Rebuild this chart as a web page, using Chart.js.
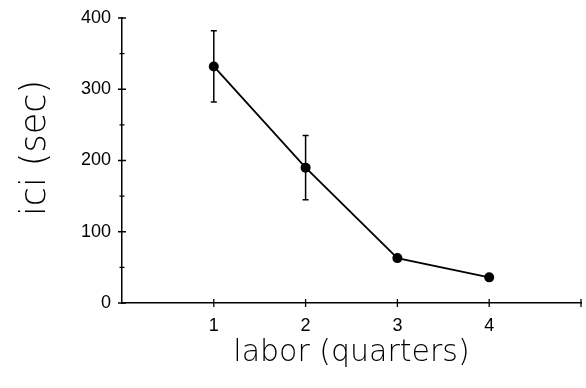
<!DOCTYPE html>
<html>
<head>
<meta charset="utf-8">
<script src="https://cdn.jsdelivr.net/npm/chart.js@4/dist/chart.umd.min.js"></script>
<style>
  html, body { margin: 0; padding: 0; background: #fff; }
</style>
</head>
<body>
<canvas id="chart" width="586" height="388"></canvas>
<script>
// data
const quarters = [1, 2, 3, 4];
const iciMean = [332, 190, 63, 36];
const iciErr = [50, 45, 0, 0];
const xTickLabels = [1, 2, 3, 4];
const yTickLabels = [0, 100, 200, 300, 400];
const yMinorTicks = [50, 150, 250, 350];
const yTitle = 'ici (sec)';

// tick marks that cross the axis lines, like the original plot
const crossTicks = {
  id: 'crossTicks',
  afterDraw(chart) {
    const ctx = chart.ctx;
    const x = chart.scales.x;
    const y = chart.scales.y;
    const ax = x.getPixelForValue(0);
    const ay = y.getPixelForValue(0);
    ctx.save();
    ctx.strokeStyle = '#000';
    ctx.lineWidth = 1.3;
    ctx.beginPath();
    yTickLabels.forEach((v) => {
      const py = y.getPixelForValue(v);
      ctx.moveTo(ax - 4, py);
      ctx.lineTo(ax + 4, py);
    });
    yMinorTicks.forEach((v) => {
      const py = y.getPixelForValue(v);
      ctx.moveTo(ax - 2.5, py);
      ctx.lineTo(ax + 2.5, py);
    });
    [1, 2, 3, 4, 5].forEach((v) => {
      const px = x.getPixelForValue(v);
      ctx.moveTo(px, ay - 4);
      ctx.lineTo(px, ay + 4);
    });
    ctx.stroke();

    // y axis title, sits a bit above the middle of the axis in the original
    ctx.translate(36, 148);
    ctx.rotate(-Math.PI / 2);
    ctx.fillStyle = '#000';
    ctx.font = '200 35px "DejaVu Sans"';
    ctx.textAlign = 'center';
    ctx.textBaseline = 'middle';
    ctx.fillText(yTitle, 0, 0);
    ctx.restore();
  }
};

// vertical error bars with small caps
const errorBars = {
  id: 'errorBars',
  beforeDatasetsDraw(chart) {
    const ctx = chart.ctx;
    const x = chart.scales.x;
    const y = chart.scales.y;
    ctx.save();
    ctx.strokeStyle = '#000';
    ctx.lineWidth = 1.5;
    ctx.beginPath();
    quarters.forEach((q, i) => {
      if (!iciErr[i]) return;
      const px = x.getPixelForValue(q);
      const top = y.getPixelForValue(iciMean[i] + iciErr[i]);
      const bot = y.getPixelForValue(iciMean[i] - iciErr[i]);
      ctx.moveTo(px, top);
      ctx.lineTo(px, bot);
      ctx.moveTo(px - 3, top);
      ctx.lineTo(px + 3, top);
      ctx.moveTo(px - 3, bot);
      ctx.lineTo(px + 3, bot);
    });
    ctx.stroke();
    ctx.restore();
  }
};

const points = quarters.map((q, i) => ({ x: q, y: iciMean[i] }));

const ctx = document.getElementById('chart').getContext('2d');
const chart = new Chart(ctx, {
  type: 'line',
  data: {
    datasets: [{
      data: points,
      borderColor: '#000',
      borderWidth: 1.8,
      backgroundColor: '#000',
      pointRadius: 5,
      pointBackgroundColor: '#000',
      pointBorderWidth: 0,
      tension: 0
    }]
  },
  options: {
    responsive: false,
    animation: false,
    layout: { padding: { top: 18, right: 2, left: 0, bottom: 0 } },
    plugins: {
      legend: { display: false },
      tooltip: { enabled: false }
    },
    scales: {
      x: {
        type: 'linear',
        min: 0,
        max: 5,
        afterFit: (s) => { s.height = 85; },
        grid: { display: false },
        border: { display: true, color: '#000', width: 1.5 },
        ticks: {
          stepSize: 1,
          padding: 4,
          color: '#000',
          font: { family: 'Liberation Sans', size: 18 },
          callback: (v) => (xTickLabels.includes(v) ? v : '')
        },
        title: {
          display: true,
          text: 'labor (quarters)',
          color: '#000',
          font: { family: 'DejaVu Sans', size: 30, weight: 200 },
          padding: { top: 0, bottom: 17 }
        }
      },
      y: {
        min: 0,
        max: 400,
        afterFit: (s) => { s.width = 122; },
        grid: { display: false },
        border: { display: true, color: '#000', width: 1.5 },
        ticks: {
          stepSize: 100,
          padding: 3,
          color: '#000',
          font: { family: 'Liberation Sans', size: 18 },
          callback: (v) => (yTickLabels.includes(v) ? v : '')
        }
      }
    }
  },
  plugins: [crossTicks, errorBars]
});
</script>
</body>
</html>
